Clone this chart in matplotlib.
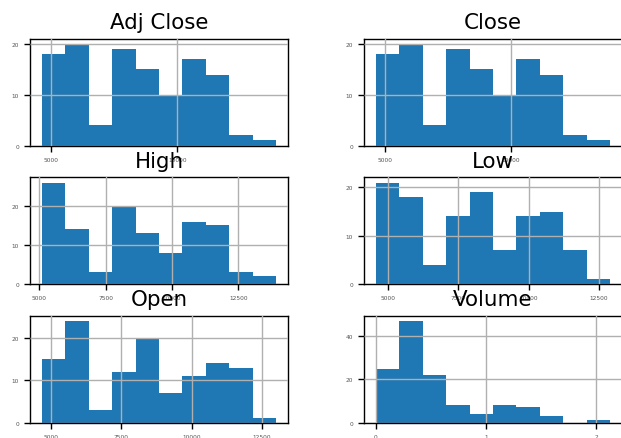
import numpy as np
import matplotlib
matplotlib.use("Agg")
import matplotlib.pyplot as plt

# Histogram of each price column (10 bins each): bin range and counts
columns = ["Adj Close", "Close", "High", "Low", "Open", "Volume"]

adj_close_range = (4643, 13900)
adj_close_counts = [18, 20, 4, 19, 15, 10, 17, 14, 2, 1]

close_range = (4629, 13938)
close_counts = [18, 20, 4, 19, 15, 10, 17, 14, 2, 1]

high_range = (5091, 13928)
high_counts = [26, 14, 3, 20, 13, 8, 16, 15, 3, 2]

low_range = (4548, 12916)
low_counts = [21, 18, 4, 14, 19, 7, 14, 15, 7, 1]

open_range = (4667, 13011)
open_counts = [15, 24, 3, 12, 20, 7, 11, 14, 13, 1]

volume_range = (0, 2.13e7)
volume_counts = [25, 47, 22, 8, 4, 8, 7, 3, 0, 1]

price_ticks_wide = [5000, 10000]
price_ticks = [5000, 7500, 10000, 12500]
volume_ticks = [0, 1e7, 2e7]

hists = {
    "Adj Close": (adj_close_range, adj_close_counts, price_ticks_wide, 10),
    "Close": (close_range, close_counts, price_ticks_wide, 10),
    "High": (high_range, high_counts, price_ticks, 10),
    "Low": (low_range, low_counts, price_ticks, 10),
    "Open": (open_range, open_counts, price_ticks, 10),
    "Volume": (volume_range, volume_counts, volume_ticks, 20),
}

fig, axes = plt.subplots(3, 2, figsize=(6.21, 4.39), dpi=100)
fig.subplots_adjust(left=0.0483, right=1.0016, bottom=0.0353, top=0.9089,
                    wspace=0.295, hspace=0.30)

for ax, name in zip(axes.flat, columns):
    (lo, hi), counts, xticks, ystep = hists[name]
    edges = np.linspace(lo, hi, len(counts) + 1)
    ax.bar(edges[:-1], counts, width=np.diff(edges), align="edge",
           color="#1f77b4", linewidth=0)
    ax.set_title(name, fontsize=15.4, pad=7.7)
    ax.grid(True, color="#b0b0b0", linewidth=1.0)
    ax.set_axisbelow(False)
    ax.set_xticks(xticks)
    ax.yaxis.set_major_locator(matplotlib.ticker.MultipleLocator(ystep))
    ax.tick_params(labelsize=4.2, length=4.5, width=1.0, colors="black",
                   labelcolor="#555555")
    ax.xaxis.get_offset_text().set_visible(False)
    for s in ax.spines.values():
        s.set_linewidth(1.0)

fig.savefig("out.png", dpi=100)
